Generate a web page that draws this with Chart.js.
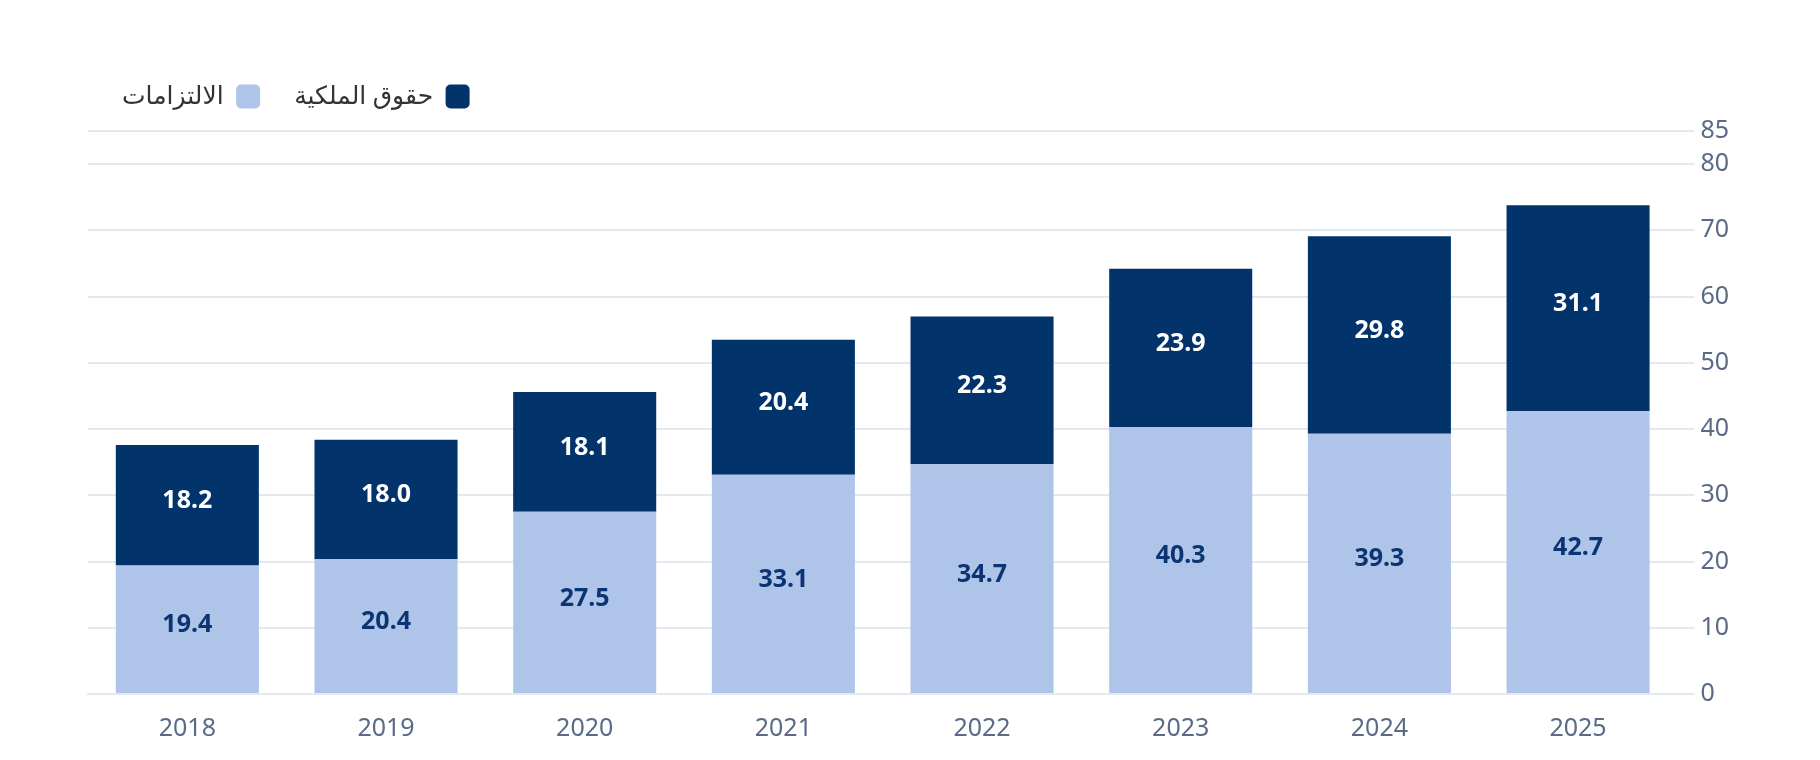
<!DOCTYPE html>
<html>
<head>
<meta charset="utf-8">
<script src="https://cdn.jsdelivr.net/npm/chart.js@4.4.0/dist/chart.umd.min.js"></script>
<style>
    html, body { margin: 0; padding: 0; background: #ffffff; }
    #wrap { width: 1820px; height: 760px; position: relative; }
</style>
</head>
<body>
<div id="wrap"><canvas id="balanceChart"></canvas></div>
<script>
// 연도별 데이터
const years = ['2018', '2019', '2020', '2021', '2022', '2023', '2024', '2025'];
const liabilities = [19.4, 20.4, 27.5, 33.1, 34.7, 40.3, 39.3, 42.7];
const equity = [18.2, 18.0, 18.1, 20.4, 22.3, 23.9, 29.8, 31.1];
const yTicks = [0, 10, 20, 30, 40, 50, 60, 70, 80, 85];

const labelLiabilities = 'الالتزامات';
const labelEquity = 'حقوق الملكية';

const fontFamily = '"Noto Sans", "DejaVu Sans", sans-serif';

// 범례 아래 여백 추가
const legendSpacing = {
    id: 'legendSpacing',
    beforeInit(chart) {
        const originalFit = chart.legend.fit;
        chart.legend.fit = function fit() {
            originalFit.bind(chart.legend)();
            this.height += 12;
        };
    }
};

// 막대 안에 값 표시
const barValueLabels = {
    id: 'barValueLabels',
    afterDatasetsDraw(chart) {
        const ctx = chart.ctx;
        ctx.save();
        ctx.font = 'bold 25px ' + fontFamily;
        ctx.textAlign = 'center';
        ctx.textBaseline = 'middle';
        chart.data.datasets.forEach(function(ds, i) {
            const meta = chart.getDatasetMeta(i);
            meta.data.forEach(function(bar, j) {
                ctx.fillStyle = ds.labelColor;
                const cy = (bar.y + bar.base) / 2 - 4;
                ctx.fillText(ds.data[j].toFixed(1), bar.x, cy);
            });
        });
        ctx.restore();
    }
};

const ctx = document.getElementById('balanceChart').getContext('2d');
new Chart(ctx, {
    type: 'bar',
    data: {
        labels: years,
        datasets: [{
            label: labelLiabilities,
            data: liabilities,
            backgroundColor: '#afc4e9',
            labelColor: '#0b3472',
            barPercentage: 1,
            categoryPercentage: 0.72
        }, {
            label: labelEquity,
            data: equity,
            backgroundColor: '#02336b',
            labelColor: '#ffffff',
            barPercentage: 1,
            categoryPercentage: 0.72
        }]
    },
    options: {
        responsive: true,
        maintainAspectRatio: false,
        animation: false,
        layout: {
            padding: { left: 88, right: 85, top: 50, bottom: 4 }
        },
        plugins: {
            legend: {
                position: 'top',
                align: 'end',
                rtl: true,
                textDirection: 'rtl',
                reverse: true,
                labels: {
                    boxWidth: 24,
                    boxHeight: 24,
                    useBorderRadius: true,
                    borderRadius: 5,
                    padding: 34,
                    color: '#333333',
                    font: { family: fontFamily, size: 25 }
                }
            },
            tooltip: { enabled: false }
        },
        scales: {
            x: {
                stacked: true,
                grid: { display: false },
                border: { color: '#e4e8f1', width: 2 },
                ticks: {
                    color: '#5b6a86',
                    padding: 12,
                    font: { family: fontFamily, size: 25 }
                }
            },
            y: {
                stacked: true,
                position: 'right',
                min: 0,
                max: 85,
                afterBuildTicks: function(axis) {
                    axis.ticks = yTicks.map(function(v) { return { value: v }; });
                },
                grid: {
                    color: '#e4e8f1',
                    lineWidth: 2,
                    drawTicks: true,
                    tickLength: 17
                },
                border: { display: false },
                ticks: {
                    color: '#5b6a86',
                    padding: 6,
                    font: { family: fontFamily, size: 25 }
                }
            }
        }
    },
    plugins: [legendSpacing, barValueLabels]
});
</script>
</body>
</html>
